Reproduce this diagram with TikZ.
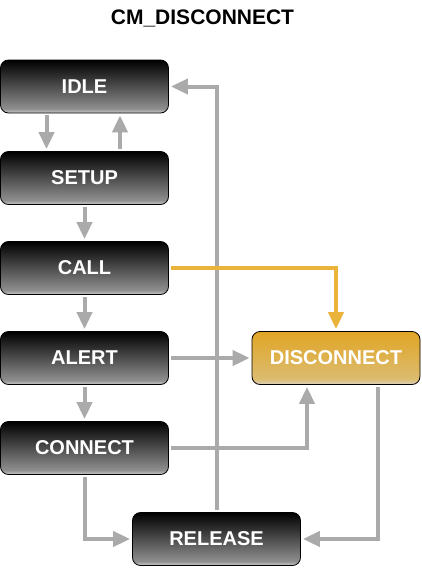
\documentclass[tikz,border=0pt]{standalone}
\usepackage{fontspec}
\setmainfont{Liberation Sans}
\usetikzlibrary{arrows.meta}
\definecolor{linegray}{HTML}{AAAAAA}
\definecolor{callorange}{HTML}{E9B33C}
\pgfdeclareverticalshading{darkbox}{100bp}{color(0bp)=(white!80!black); color(25bp)=(white!80!black);
  color(29bp)=(white!56!black); color(75bp)=(black); color(100bp)=(black)}
\definecolor{goldtop}{HTML}{E0A525}
\definecolor{goldmid}{HTML}{DCBC70}
\definecolor{goldbot}{HTML}{D9D2C4}
\pgfdeclareverticalshading{goldbox}{100bp}{color(0bp)=(goldbot); color(25bp)=(goldbot);
  color(30bp)=(goldmid); color(75bp)=(goldtop); color(100bp)=(goldtop)}

\begin{document}
\begin{tikzpicture}[x=1pt,y=-1pt]
      \useasboundingbox (0,0) rectangle (421,573);
      \node (title) at (202.5,18.5) {\bfseries\fontsize{21}{25}\selectfont CM\_DISCONNECT};
      \begin{scope}[every node/.style={rectangle,rounded corners=8pt,draw=black,line width=0.8pt,
          shading=darkbox,minimum width=168pt,minimum height=53pt,inner sep=0pt,
          text=white,font=\bfseries\fontsize{20}{24}\selectfont}]
        \node (idle) at (84.5,86.5)    {IDLE};
        \node (setup) at (84.5,178)    {SETUP};
        \node (call) at (84.5,268)     {CALL};
        \node (alert) at (84.5,358)    {ALERT};
        \node (connect) at (84.5,448)  {CONNECT};
        \node (release) at (216.5,539) {RELEASE};
        \node[shading=goldbox] (disconnect) at (336,358) {DISCONNECT};
      \end{scope}
      \begin{scope}[>={Triangle[length=17pt,width=15pt]},line width=4pt,draw=linegray,shorten >=2pt,shorten <=2pt]
        \draw[->] ([xshift=-38pt]idle.south) -- ([xshift=-38pt]setup.north);
        \draw[->] ([xshift=35.5pt]setup.north) -- ([xshift=35.5pt]idle.south);
        \draw[->] (setup) -- (call);
        \draw[->] (call) -- (alert);
        \draw[->] (alert) -- (connect);
        \draw[->] (release.north) |- (idle.east);
        \draw[->] (alert.east) -- (disconnect.west);
        \draw[->] (connect.east) -| ([xshift=-29pt]disconnect.south);
        \draw[->] ([xshift=42pt]disconnect.south) |- (release.east);
        \draw[->] (connect.south) |- (release.west);
        \draw[->,draw=callorange] (call.east) -| (disconnect.north);
      \end{scope}
    \end{tikzpicture}
\end{document}
